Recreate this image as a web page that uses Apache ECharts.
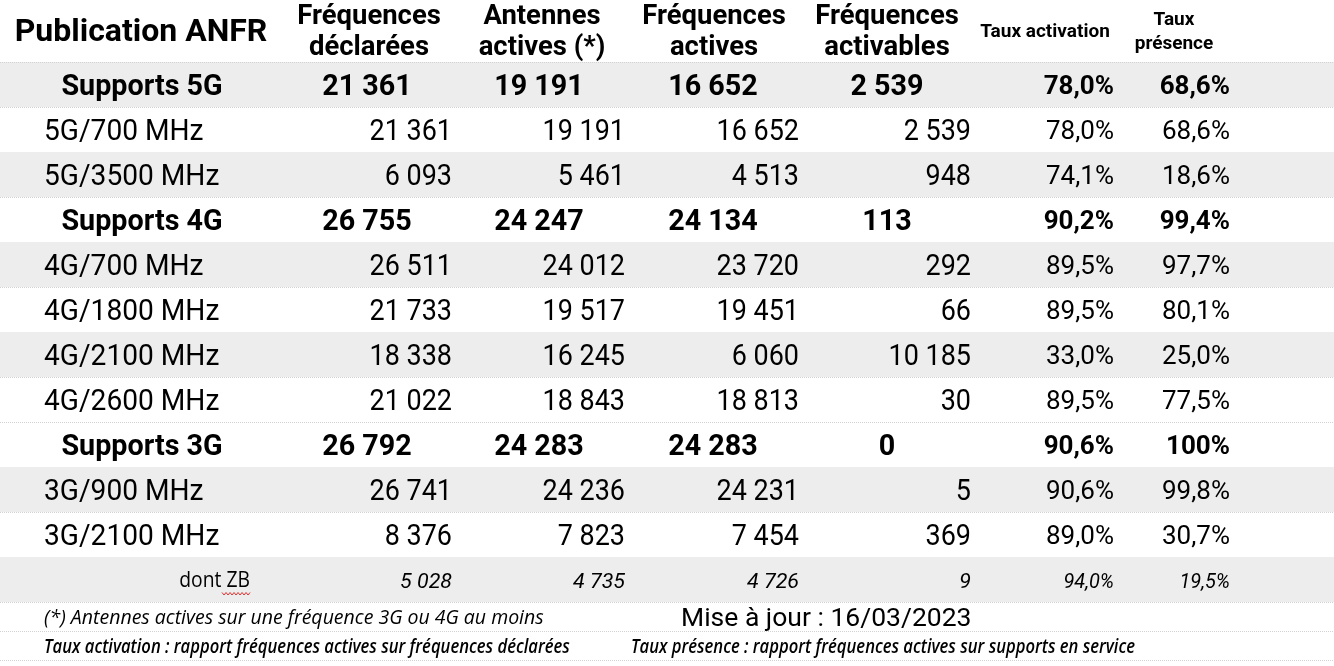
<!DOCTYPE html>
<html>
<head>
<meta charset="utf-8">
<title>Publication ANFR</title>
<script src="https://cdn.jsdelivr.net/npm/echarts@6.0.0/dist/echarts.min.js"></script>
<style>
  html, body { margin: 0; padding: 0; background: #fff; }
  #main { width: 1334px; height: 666px; }
</style>
</head>
<body>
<div id="main"></div>
<script>
const headers = [
  ['Publication ANFR'],
  ['Fréquences', 'déclarées'],
  ['Antennes', 'actives (*)'],
  ['Fréquences', 'actives'],
  ['Fréquences', 'activables'],
  ['Taux activation'],
  ['Taux', 'présence']
];
const rowLabels = ['Supports 5G', '5G/700 MHz', '5G/3500 MHz', 'Supports 4G', '4G/700 MHz', '4G/1800 MHz',
  '4G/2100 MHz', '4G/2600 MHz', 'Supports 3G', '3G/900 MHz', '3G/2100 MHz', 'dont ZB'];
const rowKinds = ['group', 'band', 'band', 'group', 'band', 'band', 'band', 'band', 'group', 'band', 'band', 'zb'];
const declarees = [21361, 21361, 6093, 26755, 26511, 21733, 18338, 21022, 26792, 26741, 8376, 5028];
const antennes = [19191, 19191, 5461, 24247, 24012, 19517, 16245, 18843, 24283, 24236, 7823, 4735];
const actives = [16652, 16652, 4513, 24134, 23720, 19451, 6060, 18813, 24283, 24231, 7454, 4726];
const activables = [2539, 2539, 948, 113, 292, 66, 10185, 30, 0, 5, 369, 9];
const tauxActivation = [78.0, 78.0, 74.1, 90.2, 89.5, 89.5, 33.0, 89.5, 90.6, 90.6, 89.0, 94.0];
const tauxPresence = [68.6, 68.6, 18.6, 99.4, 97.7, 80.1, 25.0, 77.5, 100, 99.8, 30.7, 19.5];
const notes = [
  ['(*) Antennes actives sur une fréquence 3G ou 4G au moins', 'Mise à jour : 16/03/2023'],
  ['Taux activation : rapport fréquences actives sur fréquences déclarées', 'Taux présence : rapport fréquences actives sur supports en service']
];

// --- mise en page
const W = 1334;
const shaded = [1, 0, 1, 0, 1, 0, 1, 0, 0, 1, 0, 1];
const NUM = '29px Roboto', NUM_B = 'bold 29px Roboto';
const PCT = '26px Roboto', PCT_B = 'bold 26px Roboto';
const ZB = 'italic 21px Roboto';
// [align, ancre x, police, scaleX] pour chaque colonne
const layout = {
  group: [['center', 142, NUM_B, 0.99], ['center', 367, NUM_B, 0.99], ['center', 539, NUM_B, 0.99],
    ['center', 713, NUM_B, 0.99], ['center', 887, NUM_B, 0.99], ['right', 1114, PCT_B, 1], ['right', 1230, PCT_B, 1]],
  band: [['left', 44, NUM, 0.97], ['right', 452, NUM, 0.93], ['right', 625, NUM, 0.93],
    ['right', 799, NUM, 0.93], ['right', 971, NUM, 0.93], ['right', 1114, PCT, 1], ['right', 1230, PCT, 1]],
  zb: [['right', 250, '21px "Open Sans"', 0.92], ['right', 452, ZB, 1.02], ['right', 625, ZB, 1.02],
    ['right', 799, ZB, 1.02], ['right', 971, ZB, 1.02], ['right', 1114, ZB, 0.95], ['right', 1230, ZB, 0.95]]
};
const headerLayout = [
  [141, 'bold 32px Roboto', 1.0, [30]],
  [369, 'bold 28px Roboto', 0.98, [14, 45]],
  [542, 'bold 28px Roboto', 0.98, [14, 45]],
  [714, 'bold 28px Roboto', 0.98, [14, 45]],
  [887, 'bold 28px Roboto', 0.98, [14, 45]],
  [1045, 'bold 19px Roboto', 1.0, [29]],
  [1174, 'bold 19px Roboto', 1.0, [17, 41]]
];
const noteLayout = [
  [[44, 'italic 19.5px "Open Sans"', 1.0], [681, '26.5px Roboto', 1.0]],
  [[44, 'italic 600 19px "Open Sans"', 0.875], [631, 'italic 600 19px "Open Sans"', 0.875]]
];

const fmtInt = v => String(v).replace(/\B(?=(\d{3})+(?!\d))/g, ' ');
const fmtPct = v => (v === 100 ? '100' : v.toFixed(1).replace('.', ',')) + '%';

// Roboto se centre un peu haut : petit décalage vertical selon la police
function txt(x, y, text, align, font, sx) {
  const dy = font.indexOf('Roboto') >= 0 ? 3 : 2;
  return {
    type: 'text', x: x, y: y + dy, scaleX: sx,
    style: { text: text, textAlign: align, textVerticalAlign: 'middle', font: font, fill: '#000' }
  };
}
function sep(y) {
  return {
    type: 'line', shape: { x1: 0, y1: y + 0.5, x2: W, y2: y + 0.5 },
    style: { stroke: '#d2d2d2', lineWidth: 1, lineDash: [1, 1] }
  };
}

function renderHeader(params, api) {
  const top = params.coordSys.y;
  const children = [];
  headers.forEach((lines, k) => {
    const [ax, font, sx, ys] = headerLayout[k];
    const p = api.coord([ax, 0]);
    lines.forEach((t, j) => children.push(txt(p[0], top + ys[j], t, 'center', font, sx)));
  });
  return { type: 'group', children: children };
}

function renderRow(params, api) {
  const i = api.value(1);
  const c = api.coord([0, i]);
  const h = api.size([0, 1])[1];
  const y0 = c[1] - h / 2;
  const children = [];
  if (shaded[i]) {
    children.push({ type: 'rect', shape: { x: 0, y: y0, width: W, height: h }, style: { fill: '#ededed' } });
  }
  if (i === 0) children.push(sep(y0));
  children.push(sep(y0 + h));
  const cells = [rowLabels[i], fmtInt(declarees[i]), fmtInt(antennes[i]), fmtInt(actives[i]),
    fmtInt(activables[i]), fmtPct(tauxActivation[i]), fmtPct(tauxPresence[i])];
  const spec = layout[rowKinds[i]];
  cells.forEach((t, k) => {
    const [align, ax, font, sx] = spec[k];
    const p = api.coord([ax, i]);
    children.push(txt(p[0], p[1], t, align, font, sx));
  });
  if (rowKinds[i] === 'zb') {
    // soulignement ondulé du correcteur sous "ZB"
    const p = api.coord([spec[0][1], i]);
    const pts = [];
    for (let k = 0; k <= 14; k++) pts.push([p[0] - 28 + k * 2, p[1] + 14 + (k % 2 ? 1.5 : -1)]);
    children.push({ type: 'polyline', shape: { points: pts }, style: { stroke: '#e03030', lineWidth: 1, fill: null } });
  }
  return { type: 'group', children: children };
}

function renderNote(params, api) {
  const i = api.value(1);
  const c = api.coord([0, i]);
  const h = api.size([0, 1])[1];
  const children = [sep(c[1] + h / 2)];
  notes[i].forEach((t, k) => {
    const [ax, font, sx] = noteLayout[i][k];
    const p = api.coord([ax, i]);
    children.push(txt(p[0], p[1], t, 'left', font, sx));
  });
  return { type: 'group', children: children };
}

const chart = echarts.init(document.getElementById('main'));
const hiddenX = idx => ({ type: 'value', gridIndex: idx, min: 0, max: W, show: false });
const option = {
  animation: false,
  grid: [
    { left: 0, right: 0, top: 0, height: 62 },
    { left: 0, right: 0, top: 62, height: 540 },
    { left: 0, right: 0, top: 602, height: 58 }
  ],
  xAxis: [hiddenX(0), hiddenX(1), hiddenX(2)],
  yAxis: [
    { type: 'category', gridIndex: 0, data: ['en-tête'], show: false },
    { type: 'category', gridIndex: 1, data: rowLabels, inverse: true, show: false },
    { type: 'category', gridIndex: 2, data: ['note 1', 'note 2'], inverse: true, show: false }
  ],
  series: [
    { type: 'custom', xAxisIndex: 0, yAxisIndex: 0, data: [[0, 0]], renderItem: renderHeader, silent: true },
    { type: 'custom', xAxisIndex: 1, yAxisIndex: 1, data: rowLabels.map((_, i) => [0, i]),
      encode: { x: 0, y: 1 }, renderItem: renderRow, silent: true },
    { type: 'custom', xAxisIndex: 2, yAxisIndex: 2, data: notes.map((_, i) => [0, i]),
      encode: { x: 0, y: 1 }, renderItem: renderNote, silent: true }
  ]
};
chart.setOption(option);
</script>
</body>
</html>
